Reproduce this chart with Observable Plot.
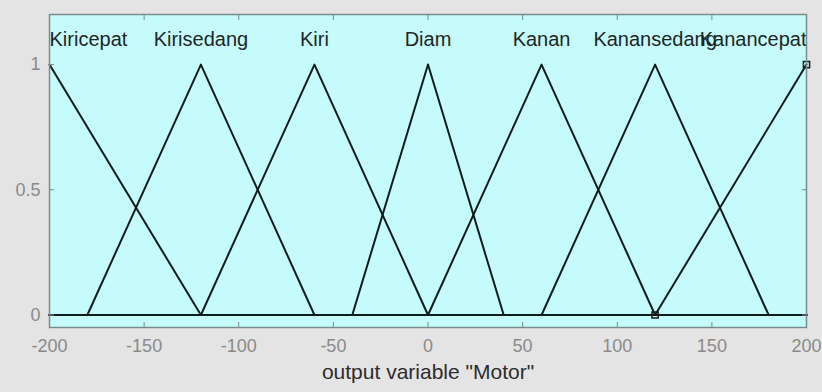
<!DOCTYPE html>
<html>
<head>
<meta charset="utf-8">
<script src="https://cdn.jsdelivr.net/npm/d3@7"></script>
<script src="https://cdn.jsdelivr.net/npm/@observablehq/plot@0.6"></script>
<style>
  html, body { margin: 0; padding: 0; background: #e4e4e4; }
  #chart svg { display: block; background: linear-gradient(#fafafa 0 7px, #e4e4e4 7px); }
</style>
</head>
<body>
<div id="chart"></div>
<script>
// Membership functions of the output variable "Motor" (triangular, [a b c])
const mfNames = ["Kiricepat", "Kirisedang", "Kiri", "Diam", "Kanan", "Kanansedang", "Kanancepat"];
const mfParams = [
  [-280, -200, -120],
  [-180, -120, -60],
  [-120, -60, 0],
  [-40, 0, 40],
  [0, 60, 120],
  [60, 120, 180],
  [120, 200, 280]
];
const xRange = [-200, 200];
const xTicks = [-200, -150, -100, -50, 0, 50, 100, 150, 200];
const yTicks = [0, 0.5, 1];
// selection handles drawn on the current membership function
const handleX = [200, 120];
const handleY = [1, 0];
const axisLabel = 'output variable "Motor"';

const trimf = (x, [a, b, c]) => Math.max(Math.min((x - a) / (b - a), (c - x) / (c - b)), 0);

// polyline per membership function, through its corner points inside the range
const lines = mfNames.flatMap((name, i) => {
  const p = mfParams[i];
  const xs = [xRange[0], ...p, xRange[1]]
    .filter(x => x >= xRange[0] && x <= xRange[1])
    .sort((u, v) => u - v);
  return Array.from(new Set(xs)).map(x => ({name, x, y: trimf(x, p)}));
});

const labels = mfNames.map((name, i) => ({name, x: mfParams[i][1], i}));
const handles = handleX.map((x, i) => ({x, y: handleY[i]}));

const ink = "#0f1c1c";
const boxColor = "#7b8a8a";
const tickText = "#8a8a8a";

const chart = Plot.plot({
  width: 822,
  height: 392,
  marginLeft: 49,
  marginRight: 16,
  marginTop: 14,
  marginBottom: 65,
  x: {domain: xRange},
  y: {domain: [-0.05, 1.2]},
  style: {fontFamily: "'Liberation Sans', Arial, sans-serif", background: "transparent"},
  marks: [
    Plot.frame({fill: "#c6fbfb"}),
    Plot.line(lines, {x: "x", y: "y", z: "name", stroke: ink, strokeWidth: 2}),
    Plot.dot(handles, {x: "x", y: "y", symbol: "square", r: 3.5, stroke: ink, fill: "none", strokeWidth: 1.5}),
    Plot.text(labels, {filter: d => d.i === 0, x: "x", y: () => 1.1, text: "name", textAnchor: "start", fontSize: 20, fill: "#1e2626"}),
    Plot.text(labels, {filter: d => d.i > 0 && d.i < mfNames.length - 1, x: "x", y: () => 1.1, text: "name", textAnchor: "middle", fontSize: 20, fill: "#1e2626"}),
    Plot.text(labels, {filter: d => d.i === mfNames.length - 1, x: "x", y: () => 1.1, text: "name", textAnchor: "end", fontSize: 20, fill: "#1e2626"}),
    Plot.frame({stroke: boxColor, strokeWidth: 1.5}),
    // inward tick marks on all four sides
    Plot.axisX(xTicks, {anchor: "bottom", tickSize: -5, fill: "none", stroke: boxColor, label: null}),
    Plot.axisX(xTicks, {anchor: "top", tickSize: -5, fill: "none", stroke: boxColor, label: null}),
    Plot.axisY(yTicks, {anchor: "left", tickSize: -5, fill: "none", stroke: boxColor, label: null}),
    Plot.axisY(yTicks, {anchor: "right", tickSize: -5, fill: "none", stroke: boxColor, label: null}),
    // tick labels
    Plot.axisX(xTicks, {anchor: "bottom", tickSize: 0, tickPadding: 12, fontSize: 18, fill: tickText, stroke: "none", label: null, tickFormat: d => `${d}`}),
    Plot.axisY(yTicks, {anchor: "left", tickSize: 0, tickPadding: 9, fontSize: 18, fill: tickText, stroke: "none", label: null, tickFormat: d => `${d}`}),
    Plot.text([axisLabel], {frameAnchor: "bottom", dy: 51, text: d => d, fontSize: 21, fill: "#2c2c2c"})
  ]
});

document.getElementById("chart").append(chart);
</script>
</body>
</html>
